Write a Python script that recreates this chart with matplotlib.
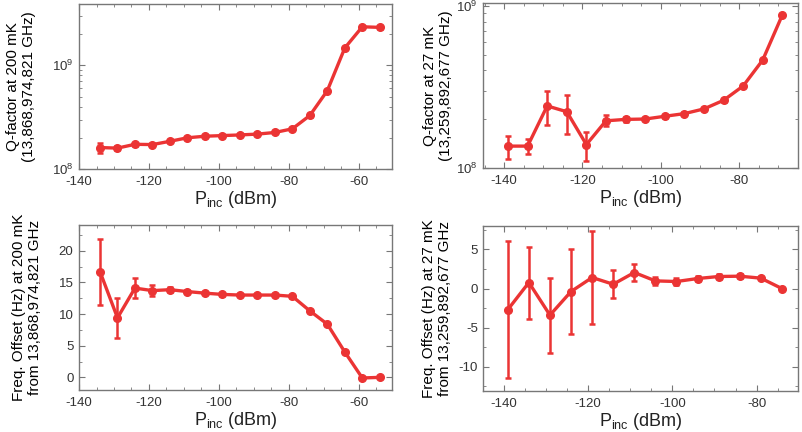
import numpy as np
import matplotlib
matplotlib.use('Agg')
import matplotlib.pyplot as plt
from matplotlib.ticker import MultipleLocator, LogLocator, NullFormatter

plt.rcParams['font.family'] = ['Liberation Sans', 'DejaVu Sans']
plt.rcParams['mathtext.fontset'] = 'custom'
plt.rcParams['mathtext.rm'] = 'Liberation Sans'
plt.rcParams['mathtext.it'] = 'Liberation Sans:italic'
plt.rcParams['axes.unicode_minus'] = False

RED = '#eb3434'

# power sweeps (dBm)
P_200MK = [-134, -129, -124, -119, -114, -109, -104, -99, -94, -89,
           -84, -79, -74, -69, -64, -59, -54]
P_27MK_Q = [-139, -134, -129, -124, -119, -114, -109, -104, -99, -94,
            -89, -84, -79, -74, -69]
P_27MK_F = [-139, -134, -129, -124, -119, -114, -109, -104, -99, -94,
            -89, -84, -79, -74]

# Q-factor at 200 mK
Q_200MK = [1.61e8, 1.59e8, 1.73e8, 1.72e8, 1.85e8, 2.00e8, 2.07e8, 2.10e8,
           2.13e8, 2.17e8, 2.25e8, 2.44e8, 3.28e8, 5.69e8, 1.47e9, 2.35e9,
           2.32e9]
Q_200MK_LO = [1.42e8, 1.53e8, 1.68e8, 1.68e8, 1.81e8, 1.96e8, 2.03e8, 2.06e8,
              2.09e8, 2.13e8, 2.20e8, 2.39e8, 3.20e8, 5.55e8, 1.43e9, 2.29e9,
              2.26e9]
Q_200MK_HI = [1.80e8, 1.65e8, 1.78e8, 1.76e8, 1.89e8, 2.04e8, 2.11e8, 2.14e8,
              2.17e8, 2.21e8, 2.30e8, 2.49e8, 3.36e8, 5.83e8, 1.51e9, 2.41e9,
              2.38e9]

# Q-factor at 27 mK
Q_27MK = [1.36e8, 1.36e8, 2.41e8, 2.22e8, 1.39e8, 1.95e8, 1.99e8, 2.00e8,
          2.08e8, 2.16e8, 2.31e8, 2.61e8, 3.20e8, 4.63e8, 8.79e8]
Q_27MK_LO = [1.14e8, 1.21e8, 1.83e8, 1.61e8, 1.10e8, 1.82e8, 1.93e8, 1.96e8,
             2.04e8, 2.12e8, 2.27e8, 2.56e8, 3.14e8, 4.55e8, 8.65e8]
Q_27MK_HI = [1.58e8, 1.50e8, 2.99e8, 2.81e8, 1.67e8, 2.12e8, 2.05e8, 2.04e8,
             2.12e8, 2.20e8, 2.35e8, 2.66e8, 3.26e8, 4.71e8, 8.93e8]

# frequency offset (Hz)
F_200MK = [16.7, 9.4, 14.1, 13.7, 13.85, 13.55, 13.3, 13.1, 13.0, 13.0,
           13.0, 12.8, 10.5, 8.4, 4.0, -0.1, 0.0]
F_200MK_ERR = [5.2, 3.2, 1.6, 0.9, 0.4, 0.25, 0.2, 0.2, 0.2, 0.2,
               0.2, 0.2, 0.2, 0.2, 0.2, 0.2, 0.1]
F_27MK = [-2.7, 0.77, -3.4, -0.38, 1.41, 0.55, 2.05, 0.98, 0.9, 1.28,
          1.54, 1.58, 1.33, 0.0]
F_27MK_ERR = [8.8, 4.6, 4.8, 5.4, 6.0, 1.8, 1.05, 0.5, 0.5, 0.3,
              0.3, 0.25, 0.1, 0.05]

XLABEL = r'P$_{\rm inc}$ (dBm)'


def style_axis(ax):
    for sp in ax.spines.values():
        sp.set_color('#777777')
        sp.set_linewidth(1.0)
    ax.tick_params(which='both', direction='in', top=True, right=True,
                   color='#777777', labelcolor='#333333', labelsize=9.5)
    ax.tick_params(which='major', length=4)
    ax.tick_params(which='minor', length=2.5)
    ax.tick_params(axis='x', pad=5)
    ax.tick_params(axis='y', pad=4)
    ax.xaxis.set_major_locator(MultipleLocator(20))
    ax.xaxis.set_minor_locator(MultipleLocator(5))
    ax.set_xlabel(XLABEL, fontsize=13, color='#222222', labelpad=1)


def draw(ax, x, y, yerr):
    ax.errorbar(x, y, yerr=yerr, color=RED, lw=2.4, marker='o', ms=5.5,
                elinewidth=1.8, capsize=2.5, capthick=1.8)


def log_axis(ax):
    ax.set_yscale('log')
    ax.yaxis.set_major_locator(LogLocator(base=10))
    ax.yaxis.set_minor_locator(LogLocator(base=10, subs=np.arange(2, 10)))
    ax.yaxis.set_minor_formatter(NullFormatter())


fig = plt.figure(figsize=(8.03, 4.32), dpi=100)

ax1 = fig.add_axes([0.0984, 0.6088, 0.3898, 0.382])
ax2 = fig.add_axes([0.6019, 0.6118, 0.3923, 0.3806])
ax3 = fig.add_axes([0.0984, 0.0972, 0.3898, 0.381])
ax4 = fig.add_axes([0.6019, 0.0949, 0.3923, 0.382])

# top left
q = np.array(Q_200MK)
draw(ax1, P_200MK, q, [q - np.array(Q_200MK_LO), np.array(Q_200MK_HI) - q])
log_axis(ax1)
ax1.set_xlim(-140, -50.5)
ax1.set_ylim(1e8, 3.9e9)
style_axis(ax1)
ax1.set_ylabel('Q-factor at 200 mK\n(13,868,974,821 GHz)', fontsize=11)
ax1.yaxis.set_label_coords(-0.137, 0.5)

# top right
q = np.array(Q_27MK)
draw(ax2, P_27MK_Q, q, [q - np.array(Q_27MK_LO), np.array(Q_27MK_HI) - q])
log_axis(ax2)
ax2.set_xlim(-145.3, -64.9)
ax2.set_ylim(1e8, 1.04e9)
style_axis(ax2)
ax2.set_ylabel('Q-factor at 27 mK\n(13,259,892,677 GHz)', fontsize=11)
ax2.yaxis.set_label_coords(-0.096, 0.5)

# bottom left
draw(ax3, P_200MK, F_200MK, F_200MK_ERR)
ax3.set_xlim(-140, -50.5)
ax3.set_ylim(-2, 24)
style_axis(ax3)
ax3.yaxis.set_major_locator(MultipleLocator(5))
ax3.yaxis.set_minor_locator(MultipleLocator(2.5))
ax3.set_ylabel('Freq. Offset (Hz) at 200 mK\nfrom 13,868,974,821 GHz',
               fontsize=11)
ax3.yaxis.set_label_coords(-0.119, 0.5)

# bottom right
draw(ax4, P_27MK_F, F_27MK, F_27MK_ERR)
ax4.set_xlim(-144.8, -70.1)
ax4.set_ylim(-13.1, 8)
style_axis(ax4)
ax4.yaxis.set_major_locator(MultipleLocator(5))
ax4.yaxis.set_minor_locator(MultipleLocator(2.5))
ax4.set_ylabel('Freq. Offset (Hz) at 27 mK\nfrom 13,259,892,677 GHz',
               fontsize=11)
ax4.yaxis.set_label_coords(-0.1, 0.5)

fig.savefig('out.png', dpi=100)
